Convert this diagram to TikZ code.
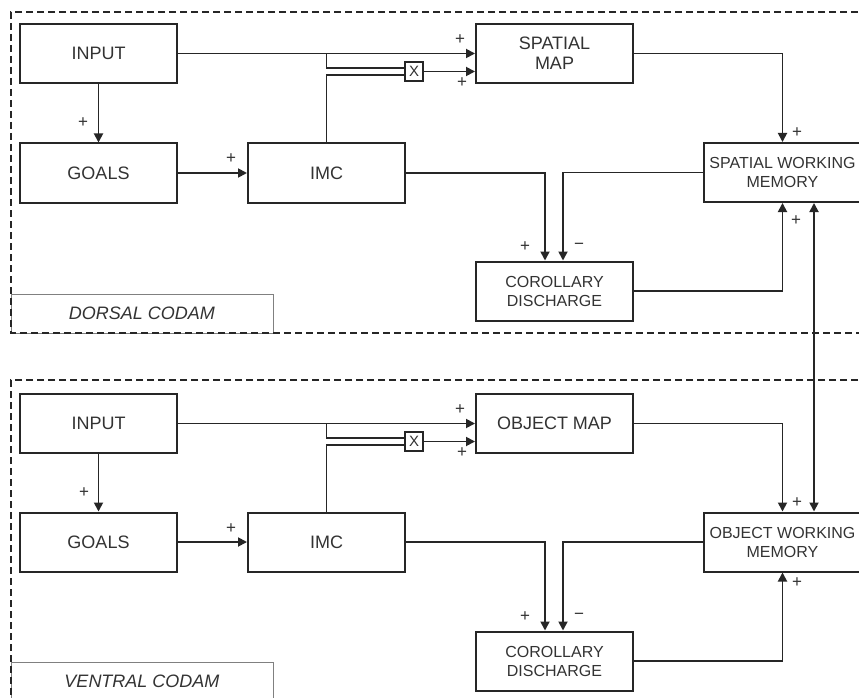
\documentclass[tikz,border=0pt]{standalone}
\usepackage{fontspec}
\setmainfont{Liberation Sans}
\usetikzlibrary{arrows.meta,calc}
\begin{document}
\begin{tikzpicture}[x=1pt,y=-1pt,
  blk/.style={draw=black!85, line width=2pt, fill=white, minimum width=157pt, minimum height=59pt, inner sep=0pt, text=black!80, font=\fontsize{18}{20}\selectfont, align=center},
  mem/.style={blk, font=\fontsize{16}{19}\selectfont},
  mult/.style={draw=black!85, line width=1.5pt, fill=white, minimum width=18pt, minimum height=19pt, inner sep=0pt, font=\fontsize{15}{15}\selectfont, text=black!80},
  wire/.style={draw=black!85, line width=1.8pt},
  tip/.tip={Triangle[length=9pt,width=9pt]},
  arr/.style={wire, -tip},
  sgn/.style={font=\fontsize{17}{17}\selectfont, text=black!80, inner sep=0pt},
  frame/.style={draw=black!85, line width=1.4pt, dash pattern=on 7pt off 4pt},
  tag/.style={draw=black!50, line width=1pt, fill=white, minimum width=262pt, minimum height=39pt, inner sep=0pt, font=\fontsize{18}{20}\selectfont\itshape, text=black!80}
]
\useasboundingbox (0,0) rectangle (859,698);
\clip (0,0) rectangle (859,698);
\fill[white] (0,0) rectangle (859,698);

% ---------- label tags and frames ----------
\node[tag] (tag1) at (142,313.5) {DORSAL CODAM};
\node[tag] (tag2) at (142,681.5) {VENTRAL CODAM};
\draw[frame] (880,12) -| (11,333) -- (880,333);
\draw[frame] (880,380) -| (11,720);

% ---------- dorsal nodes ----------
\node[blk] (in1) at (98.5,53.5) {INPUT};
\node[blk] (go1) at (98.5,173) {GOALS};
\node[blk] (imc1) at (326.5,173) {IMC};
\node[blk] (map1) at (554.5,53.5) {SPATIAL\\MAP};
\node[mem] (swm) at (782.5,172.5) {SPATIAL WORKING\\MEMORY};
\node[mem] (cd1) at (554.5,291) {COROLLARY\\DISCHARGE};
\node[mult] (x1) at (414,71.5) {X};

% ---------- ventral nodes ----------
\node[blk] (in2) at (98.5,423.5) {INPUT};
\node[blk] (go2) at (98.5,542) {GOALS};
\node[blk] (imc2) at (326.5,542) {IMC};
\node[blk] (map2) at (554.5,423.5) {OBJECT MAP};
\node[mem] (owm) at (782.5,542) {OBJECT WORKING\\MEMORY};
\node[mem] (cd2) at (554.5,661) {COROLLARY\\DISCHARGE};
\node[mult] (x2) at (414,441.5) {X};

% ---------- dorsal wires ----------
\draw[arr] (in1.east) -- (map1.west |- in1.east);
\draw[wire] (imc1.north |- in1.east) |- ($(x1.west)+(0,-3.5)$);
\draw[wire] (imc1.north) |- ($(x1.west)+(0,3.5)$);
\draw[arr] (x1.east) -- (map1.west |- x1.east);
\draw[arr] (in1.south) -- (go1.north);
\draw[arr] (go1.east) -- (imc1.west);
\draw[arr] (map1.east) -| (swm.north);
\draw[arr] (imc1.east) -| ($(cd1.north)+(-9.5,0)$);
\draw[arr] (swm.west) -| ($(cd1.north)+(8.5,0)$);
\draw[arr] (cd1.east) -| (swm.south);

% ---------- ventral wires ----------
\draw[arr] (in2.east) -- (map2.west |- in2.east);
\draw[wire] (imc2.north |- in2.east) |- ($(x2.west)+(0,-3.5)$);
\draw[wire] (imc2.north) |- ($(x2.west)+(0,3.5)$);
\draw[arr] (x2.east) -- (map2.west |- x2.east);
\draw[arr] (in2.south) -- (go2.north);
\draw[arr] (go2.east) -- (imc2.west);
\draw[arr] (map2.east) -| (owm.north);
\draw[arr] (imc2.east) -| ($(cd2.north)+(-9.5,0)$);
\draw[arr] (owm.west) -| ($(cd2.north)+(8.5,0)$);
\draw[arr] (cd2.east) -| (owm.south);

% ---------- link between working memories ----------
\coordinate (dx) at (814,0);
\draw[wire, tip-tip] (swm.south -| dx) -- (owm.north -| dx);

% ---------- signs, dorsal ----------
\node[sgn] (p1) at (460,40) {+};
\node[sgn] (p2) at (462,83) {+};
\node[sgn] (p3) at (83,123) {+};
\node[sgn] (p4) at (231,159) {+};
\node[sgn] (p5) at (797,133) {+};
\node[sgn] (p6) at (796,221) {+};
\node[sgn] (p7) at (525,247) {+};
\node[sgn] (m1) at (579,246) {\textminus};

% ---------- signs, ventral ----------
\node[sgn] (q1) at (460,410) {+};
\node[sgn] (q2) at (462,453) {+};
\node[sgn] (q3) at (84,493) {+};
\node[sgn] (q4) at (231,529) {+};
\node[sgn] (q5) at (797,503) {+};
\node[sgn] (q6) at (797,583) {+};
\node[sgn] (q7) at (525,617) {+};
\node[sgn] (m2) at (579,616) {\textminus};
\end{tikzpicture}
\end{document}
